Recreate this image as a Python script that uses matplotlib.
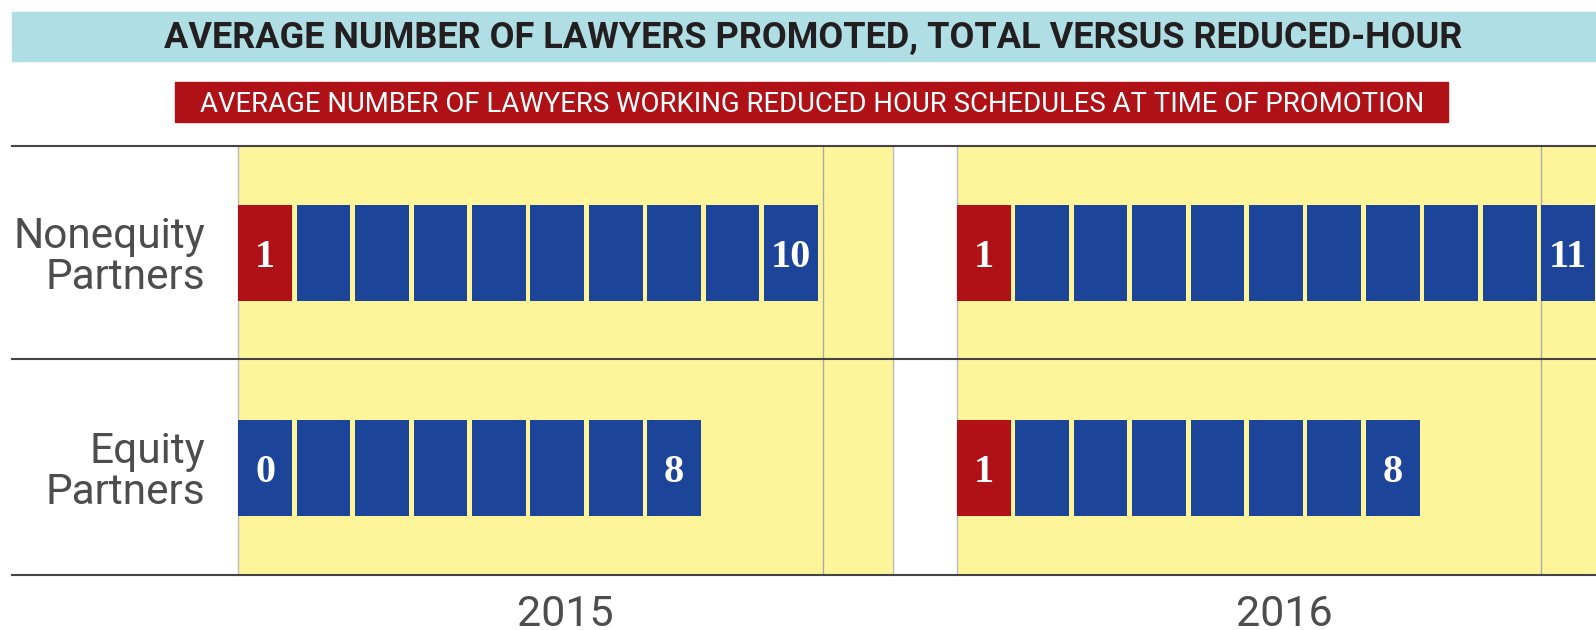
import matplotlib.pyplot as plt
from matplotlib.patches import Rectangle
from matplotlib.lines import Line2D

# data
years = ['2015', '2016']
rows = ['Nonequity\nPartners', 'Equity\nPartners']
total = {'2015': [10, 8], '2016': [11, 8]}
reduced = {'2015': [1, 0], '2016': [1, 1]}

title = 'AVERAGE NUMBER OF LAWYERS PROMOTED, TOTAL VERSUS REDUCED-HOUR'
subtitle = 'AVERAGE NUMBER OF LAWYERS WORKING REDUCED HOUR SCHEDULES AT TIME OF PROMOTION'

blue = '#1c4599'
red = '#b01117'
yellow = '#fef59b'
cyan = '#afdfe4'
grey = '#4d4d4d'

W, H = 1596, 630
fig = plt.figure(figsize=(W / 100, H / 100), dpi=100)

# header band + red subtitle box
fig.patches.append(Rectangle((12 / W, 1 - 61 / H), 1, 49 / H, transform=fig.transFigure,
                             color=cyan, zorder=0))
fig.text(0.5092, 1 - 47.8 / H, title, ha='center', va='baseline', fontsize=26,
         family='Roboto', weight='bold', color='#231f20')
fig.patches.append(Rectangle((175 / W, 1 - 122 / H), 1273 / W, 40 / H, transform=fig.transFigure,
                             color=red, zorder=0))
fig.text(0.5086, 1 - 112 / H, subtitle, ha='center', va='baseline', fontsize=19.8,
         family='Roboto', color='white')

xmax = 11.2
left0 = [238.2, 956.8]
for k, yr in enumerate(years):
    ax = fig.add_axes([left0[k] / W, 1 - 575 / H, 654.5 / W, 429.5 / H])
    ax.set_facecolor(yellow)
    ax.set_xlim(0, xmax)
    ax.set_ylim(1.5, -0.5)
    for r in range(len(rows)):
        n, m = total[yr][r], reduced[yr][r]
        cols = [red if i < m else blue for i in range(n)]
        ax.barh([r] * n, [0.92] * n, left=list(range(n)), height=0.448,
                color=cols, align='center', zorder=3)
        ax.text(0.46, r + 0.066, str(m), ha='center', va='baseline', color='white',
                fontsize=29, family='Liberation Serif', weight='bold', zorder=4)
        ax.text(n - 1 + 0.46, r + 0.066, str(n), ha='center', va='baseline', color='white',
                fontsize=29, family='Liberation Serif', weight='bold', zorder=4)
    ax.axvline(10, color='#aaaaaa', lw=1, zorder=1)
    for s in ['top', 'bottom']:
        ax.spines[s].set_visible(False)
    for s in ['left', 'right']:
        ax.spines[s].set_color('#bbbbbb')
        ax.spines[s].set_linewidth(1)
    ax.set_xticks([])
    if k == 0:
        ax.set_yticks(range(len(rows)), rows, fontsize=30.5, family='Roboto', color=grey,
                      linespacing=1.0)
        ax.tick_params(axis='y', length=0, pad=24)
    else:
        ax.set_yticks([])
    ax.text(0.5, -0.118, yr, transform=ax.transAxes, ha='center', va='baseline',
            fontsize=31, family='Roboto', color=grey)

# row separator lines
for yp in [145.5, 359.3, 575.1]:
    fig.add_artist(Line2D([12 / W, 1], [1 - yp / H] * 2, transform=fig.transFigure,
                          color='#444444', lw=1.5, zorder=10))

plt.savefig('out.png', dpi=100)
